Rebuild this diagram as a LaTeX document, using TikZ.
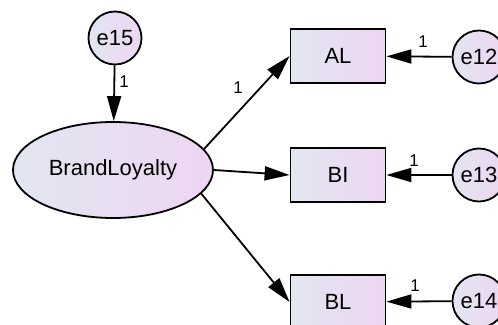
\documentclass[tikz,border=0pt]{standalone}
\usepackage{fontspec}
\setmainfont{Liberation Sans}
\usetikzlibrary{shapes.geometric,arrows.meta,positioning}
\definecolor{amosleft}{RGB}{226,230,240}
\definecolor{amosright}{RGB}{237,214,243}
\begin{document}
\begin{tikzpicture}[x=1pt,y=1pt,
    latent/.style={ellipse, draw=black, line width=1.8pt, minimum width=200pt, minimum height=96pt,
                   left color=amosleft, right color=amosright, font=\fontsize{22}{26}\selectfont},
    observed/.style={rectangle, draw=black, line width=1.8pt, minimum width=95pt, minimum height=54pt,
                     left color=amosleft, right color=amosright, font=\fontsize{22}{26}\selectfont},
    errvar/.style={circle, draw=black, line width=1.8pt, minimum size=53pt, inner sep=0pt,
                   left color=amosleft, right color=amosright, font=\fontsize{22}{26}\selectfont},
    weight/.style={font=\fontsize{17}{19}\selectfont, inner sep=0pt},
    path/.style={-{Triangle[length=25pt,width=14pt]}, line width=1.8pt}
]
\useasboundingbox (0,0) rectangle (498,324);
\node[latent]   (brand) at (113,154) {BrandLoyalty};
\node[errvar]   (e15)   at (115,286) {e15};
\node[observed] (AL)    at (338,268) {AL};
\node[observed] (BI)    at (338,149) {BI};
\node[observed] (BL)    at (338,22)  {BL};
\node[errvar]   (e12)   at (479,267) {e12};
\node[errvar]   (e13)   at (479,149) {e13};
\node[errvar]   (e14)   at (479,23)  {e14};

\draw[path] (e15) -- (brand);
\draw[path] (brand.13) -- (AL.west);
\draw[path] (brand.east) -- (BI.west);
\draw[path] (brand.-15) -- (BL.west);
\draw[path] (e12) -- (AL);
\draw[path] (e13) -- (BI);
\draw[path] (e14) -- (BL);

\node[weight] (w15) at (124,242) {1};
\node[weight] (wAL) at (238,236) {1};
\node[weight] (w12) at (423,282) {1};
\node[weight] (w13) at (414,163) {1};
\node[weight] (w14) at (415,38)  {1};
\end{tikzpicture}
\end{document}
